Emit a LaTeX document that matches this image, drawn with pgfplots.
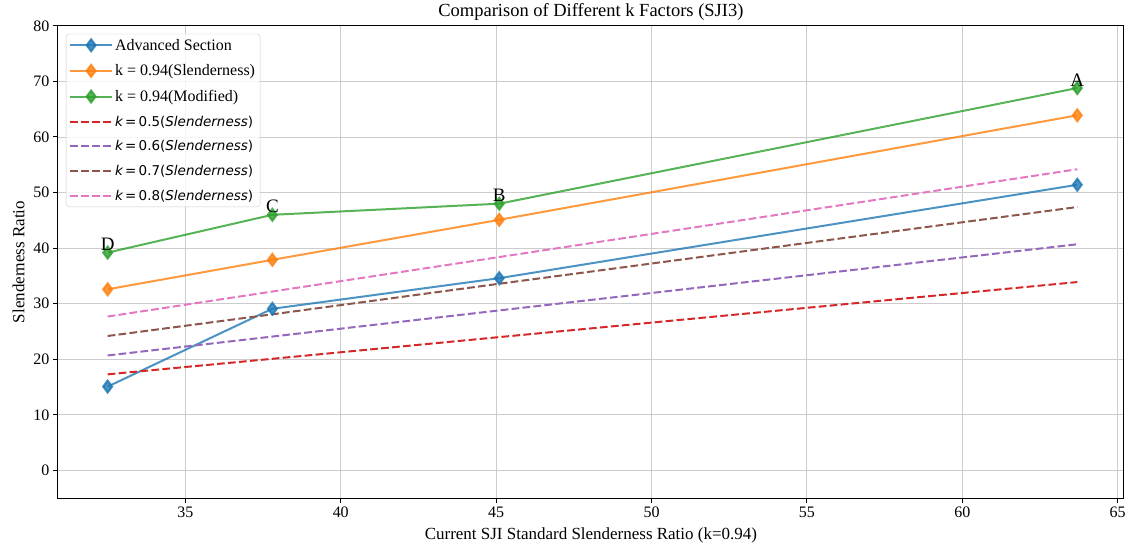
\documentclass[border=0pt]{standalone}
\usepackage{pgfplots}
\pgfplotsset{compat=1.18}
\usepackage{fontspec}
\setmainfont{Liberation Serif}
\newfontfamily\dvs{DejaVu Sans}
\definecolor{c1}{HTML}{1F77B4}
\definecolor{c2}{HTML}{FF7F0E}
\definecolor{c3}{HTML}{2CA02C}
\definecolor{c4}{HTML}{D62728}
\definecolor{c5}{HTML}{9467BD}
\definecolor{c6}{HTML}{8C564B}
\definecolor{c7}{HTML}{E377C2}
\newcommand{\kl}[1]{{\dvs\fontsize{13.5}{18}\selectfont\itshape k\upshape\,=\,#1(\itshape Slenderness\upshape )}}
\begin{document}
\begin{tikzpicture}
\begin{axis}[
  name=ax,
  scale only axis,
  width=1067pt, height=473pt,
  xmin=30.9, xmax=65.2, ymin=-5, ymax=80,
  xtick={35,40,...,65}, ytick={0,10,...,80},
  tick pos=left, tick align=outside,
  major tick length=5pt,
  grid=major,
  grid style={line width=0.9pt, color=black!20},
  axis line style={line width=1pt},
  every tick/.style={black, line width=1pt},
  /pgf/number format/assume math mode=true,
  ticklabel style={font=\fontsize{16}{18}\selectfont},
  xlabel={Current SJI Standard Slenderness Ratio (k=0.94)},
  ylabel={Slenderness Ratio},
  label style={font=\fontsize{17}{19}\selectfont},
  xlabel style={yshift=-3pt},
  ylabel style={yshift=2pt},
  title={Comparison of Different k Factors (SJI3)},
  title style={font=\fontsize{18.5}{20}\selectfont, yshift=-4pt},
  legend cell align=left,
  legend style={font=\fontsize{16}{19}\selectfont, draw=black!20, rounded corners=3pt, fill=white, fill opacity=0.8, text opacity=1, inner sep=3pt, row sep=9pt,
    at={(0,1)}, anchor=north west, xshift=8pt, yshift=-8pt},
  legend image code/.code={\draw[mark repeat=2,mark phase=2,#1] plot coordinates {(0pt,0pt)(21pt,0pt)(42pt,0pt)};},
]
\addplot[c1, opacity=0.8, line width=2pt, mark=diamond*, mark size=6pt] coordinates {(32.5,15.1) (37.8,29.1) (45.1,34.6) (63.7,51.4)};
\addlegendentry{Advanced Section}
\addplot[c2, opacity=0.8, line width=2pt, mark=diamond*, mark size=6pt] coordinates {(32.5,32.6) (37.8,37.9) (45.1,45.1) (63.7,63.9)};
\addlegendentry{k = 0.94(Slenderness)}
\addplot[c3, opacity=0.8, line width=2pt, mark=diamond*, mark size=6pt,
  nodes near coords, point meta=explicit symbolic,
  nodes near coords style={anchor=base, yshift=2pt, black, opacity=1, font=\fontsize{19}{21}\selectfont}] table[meta=lab] {
x y lab
32.5 39.2 D
37.8 46.0 C
45.1 48.0 B
63.7 68.8 A
};
\addlegendentry{k = 0.94(Modified)}
\addplot[c4, line width=2pt, dash pattern=on 7.7pt off 3.3pt] coordinates {(32.5,17.3) (37.8,20.1) (45.1,24.0) (63.7,33.9)};
\addlegendentry{\kl{0.5}}
\addplot[c5, line width=2pt, dash pattern=on 7.7pt off 3.3pt] coordinates {(32.5,20.7) (37.8,24.1) (45.1,28.8) (63.7,40.7)};
\addlegendentry{\kl{0.6}}
\addplot[c6, line width=2pt, dash pattern=on 7.7pt off 3.3pt] coordinates {(32.5,24.2) (37.8,28.1) (45.1,33.6) (63.7,47.4)};
\addlegendentry{\kl{0.7}}
\addplot[c7, line width=2pt, dash pattern=on 7.7pt off 3.3pt] coordinates {(32.5,27.7) (37.8,32.2) (45.1,38.4) (63.7,54.2)};
\addlegendentry{\kl{0.8}}
\end{axis}
\path ([xshift=-58pt,yshift=-52pt]ax.south west) ([xshift=4pt,yshift=25pt]ax.north east);
\end{tikzpicture}
\end{document}
